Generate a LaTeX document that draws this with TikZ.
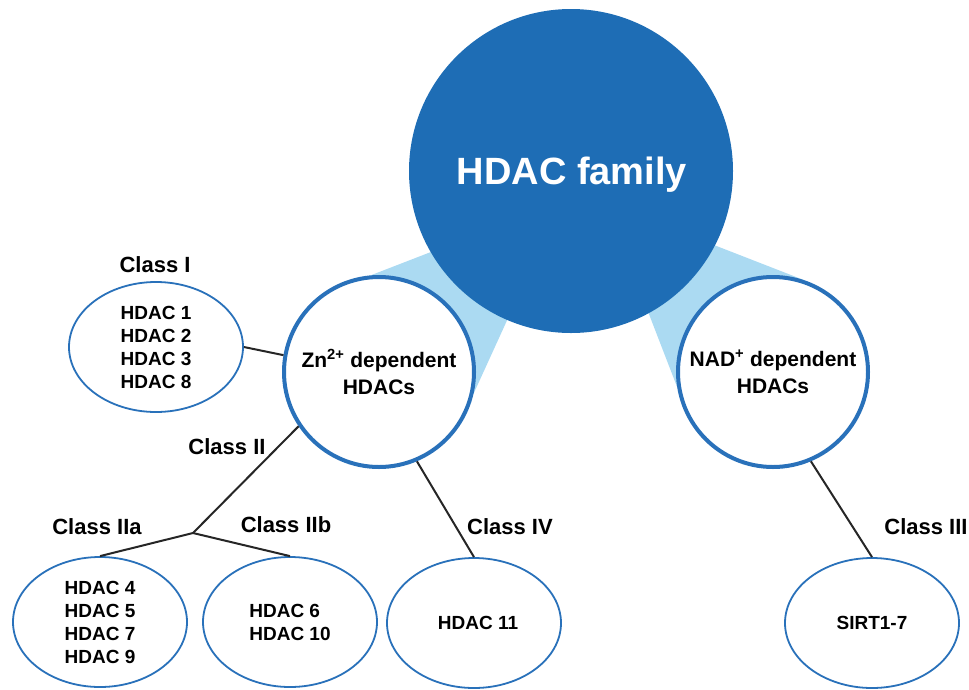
\documentclass[tikz,border=0pt]{standalone}
\usepackage{fontspec}
\setmainfont{Liberation Sans}
\usetikzlibrary{shapes.geometric,backgrounds}
\definecolor{hdacblue}{HTML}{1E6DB5}
\definecolor{conelight}{HTML}{ABDAF2}
\definecolor{rimblue}{HTML}{2971BA}

\begin{document}
\begin{tikzpicture}[
  x=1pt, y=-1pt,
  familycirc/.style={circle, fill=hdacblue, minimum size=324pt, inner sep=0pt, font=\fontsize{38}{46}\selectfont\bfseries},
  depcirc/.style={circle, draw=rimblue, line width=4pt, fill=white, minimum size=190pt, inner sep=0pt, align=center, font=\fontsize{21}{27}\selectfont\bfseries},
  memberell/.style={ellipse, draw=rimblue, line width=1.8pt, fill=white, minimum width=174pt, minimum height=130pt, inner sep=0pt, align=center, font=\fontsize{19}{23}\selectfont\bfseries},
  classlabel/.style={font=\fontsize{22}{26}\selectfont\bfseries},
  link/.style={draw=black!85, line width=2pt}
]
  \useasboundingbox (0,0) rectangle (969,689);
  \node[familycirc] (fam) at (571,171) {};
  \node[text=white, font=\fontsize{38}{46}\selectfont\bfseries] (famtext) at (572,175) {HDAC family};
  \node[depcirc] (zn) at (379,372) {Zn\textsuperscript{2+} dependent\\HDACs};
  \node[depcirc] (nad) at (773,372) {NAD\textsuperscript{+} dependent\\HDACs};

  \begin{scope}[on background layer]
    \fill[conelight] (zn.95) -- (480,233) -- (530,270) -- (zn.-13) -- cycle;
    \fill[conelight] (nad.71) -- (660,224) -- (630,265) -- (nad.189) -- cycle;
  \end{scope}

  \node[memberell] (c1) at (156,347) {HDAC 1\\HDAC 2\\HDAC 3\\HDAC 8};
  \node[memberell] (c2a) at (100,622) {HDAC 4\\HDAC 5\\HDAC 7\\HDAC 9};
  \node[memberell, align=left] (c2b) at (290,622) {HDAC 6\\HDAC 10};
  \node[memberell] (c4) at (474,623) {\hspace{8pt}HDAC 11};
  \node[memberell] (c3) at (872,623) {SIRT1-7};

  \node[classlabel] (l1) at (155,265) {Class I};
  \node[classlabel] (l2) at (227,447) {Class II};
  \node[classlabel] (l2a) at (97,527) {Class IIa};
  \node[classlabel] (l2b) at (286,525) {Class IIb};
  \node[classlabel] (l4) at (510,527) {Class IV};
  \node[classlabel] (l3) at (926,527) {Class III};

  \coordinate (split) at (193,533);
  \draw[link] (c1.east) -- (zn.170);
  \draw[link] (zn.214) -- (split);
  \draw[link] (split) -- (c2a.north);
  \draw[link] (split) -- (c2b.north);
  \draw[link] (zn.293) -- (c4.north);
  \draw[link] (nad.293) -- (c3.north);
\end{tikzpicture}
\end{document}
